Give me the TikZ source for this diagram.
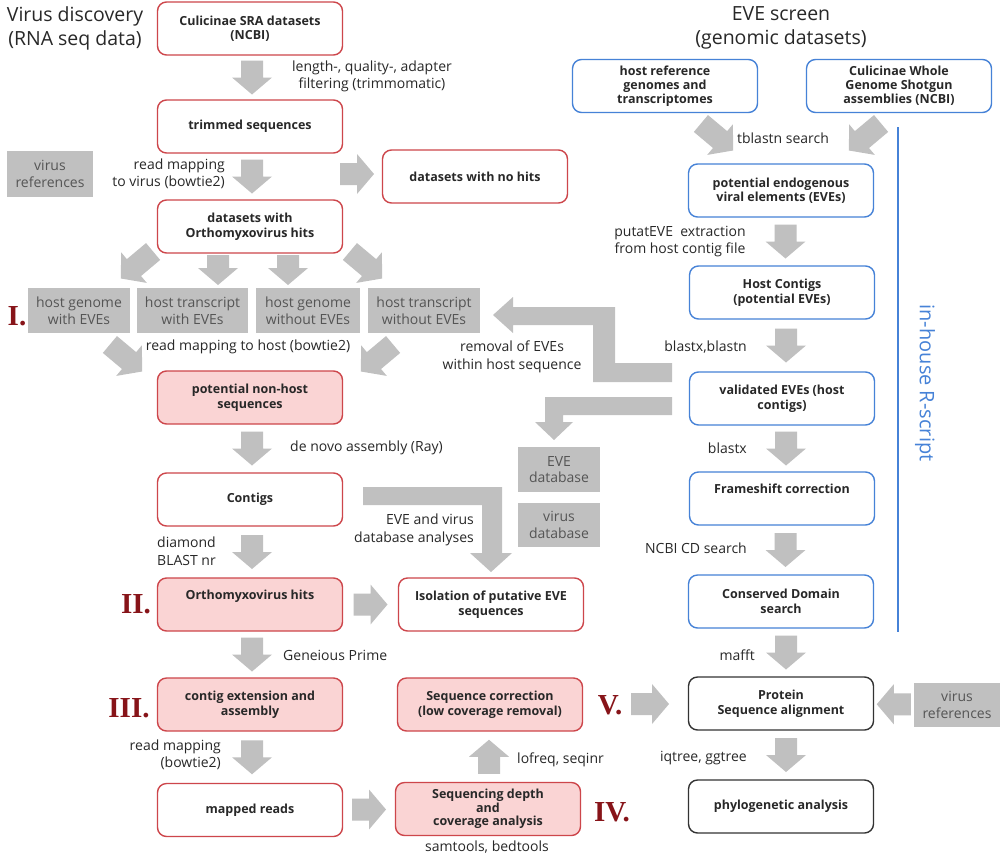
\documentclass[tikz,border=0pt]{standalone}
\usepackage{fontspec}
\setmainfont{Open Sans}
\newfontfamily\numfont{Liberation Serif}
\usetikzlibrary{calc}
\definecolor{boxred}{RGB}{205,70,75}
\definecolor{boxpink}{RGB}{250,212,212}
\definecolor{boxblue}{RGB}{70,130,215}
\definecolor{arrowgray}{RGB}{192,192,192}
\definecolor{gtext}{RGB}{85,85,85}
\definecolor{numred}{RGB}{135,20,25}
\definecolor{txt}{RGB}{40,40,40}
\newcommand{\blk}[3]{\fill[arrowgray, shift={#1}, rotate=#2] (-#3,-11) -- ({#3-17},-11) -- ({#3-17},-20) -- (#3,0) -- ({#3-17},20) -- ({#3-17},11) -- (-#3,11) -- cycle;}
\tikzset{
 box/.style={rounded corners=9pt, minimum width=185pt, minimum height=53pt, align=center, font=\bfseries\fontsize{12.5}{14.5}\selectfont, text=txt, line width=1.4pt, inner sep=1pt},
 redbox/.style={box, draw=boxred, fill=white},
 pinkbox/.style={box, draw=boxred, fill=boxpink},
 bluebox/.style={box, draw=boxblue, fill=white},
 blackbox/.style={box, draw=black!80, fill=white},
 graybox/.style={fill=arrowgray, text=gtext, align=center, font=\fontsize{14}{16.5}\selectfont, inner sep=0pt},
 lbl/.style={text=txt, font=\fontsize{14}{17.5}\selectfont, inner sep=0pt},
 roman/.style={text=numred, font=\numfont\bfseries\fontsize{29}{30}\selectfont, inner sep=0pt},
 title/.style={text=txt, font=\fontsize{19.5}{24}\selectfont, align=center, inner sep=0pt},
}
\begin{document}
\begin{tikzpicture}[x=1pt,y=-1pt]
\useasboundingbox[fill=white] (0,0) rectangle (1000,854);
% titles
\node[title] (t1) at (75,28) {Virus discovery\\(RNA seq data)};
\node[title] (t2) at (781,28) {EVE screen\\(genomic datasets)};
% left column
\node[redbox] (sra) at (250,28.5) {Culicinae SRA datasets\\(NCBI)};
\node[redbox] (trim) at (250,126.5) {trimmed sequences};
\node[redbox] (nohits) at (475,176.5) {datasets with no hits};
\node[redbox] (ortho) at (250,226.5) {datasets with\\Orthomyxovirus hits};
\node[pinkbox] (nonhost) at (250,397.5) {potential non-host\\sequences};
\node[redbox] (contigs) at (250,499.5) {Contigs};
\node[pinkbox] (ohits) at (250,604.5) {Orthomyxovirus hits\\\strut};
\node[redbox] (isol) at (491,604.5) {Isolation of putative EVE\\sequences};
\node[pinkbox] (ext) at (250,704.5) {contig extension and\\assembly};
\node[redbox] (mapped) at (250,810) {mapped reads};
\node[pinkbox] (seqcorr) at (490,704.5) {Sequence correction\\(low coverage removal)};
\node[pinkbox, font=\bfseries\fontsize{12.5}{13.5}\selectfont] (depth) at (488,809) {Sequencing depth\\and\\coverage analysis};
% right column
\node[bluebox, font=\bfseries\fontsize{12.5}{14}\selectfont] (hostref) at (665,86) {host reference\\genomes and\\transcriptomes};
\node[bluebox, font=\bfseries\fontsize{12.5}{14}\selectfont] (wgs) at (899,86) {Culicinae Whole\\Genome Shotgun\\assemblies (NCBI)};
\node[bluebox] (pot) at (781,190.5) {potential endogenous\\viral elements (EVEs)};
\node[bluebox] (hcont) at (782,292.5) {Host Contigs\\(potential EVEs)};
\node[bluebox] (valid) at (782,398.5) {validated EVEs (host\\contigs)};
\node[bluebox] (frame) at (782,498.5) {Frameshift correction\\\strut};
\node[bluebox] (cds) at (781,601.5) {Conserved Domain\\search};
\node[blackbox] (prot) at (781,703.5) {Protein\\Sequence alignment};
\node[blackbox] (phylo) at (781,806.5) {phylogenetic analysis};
% gray boxes
\node[graybox, minimum width=86pt, minimum height=46pt] (vref) at (50,174) {virus\\references};
\node[graybox, minimum width=102pt, minimum height=45pt] (g1) at (79,310.5) {host genome\\with EVEs};
\node[graybox, minimum width=111pt, minimum height=45pt] (g2) at (192.5,310.5) {host transcript\\with EVEs};
\node[graybox, minimum width=104pt, minimum height=45pt] (g3) at (308,310.5) {host genome\\without EVEs};
\node[graybox, minimum width=112pt, minimum height=45pt] (g4) at (424,310.5) {host transcript\\without EVEs};
\node[graybox, minimum width=82pt, minimum height=45pt] (evedb) at (559,469.5) {EVE\\database};
\node[graybox, minimum width=82pt, minimum height=44pt] (virdb) at (559,525) {virus\\database};
\node[graybox, minimum width=87pt, minimum height=44pt] (vref2) at (957,705) {virus\\references};
% block arrows left
\blk{($(sra.south)!0.5!(trim.north)+(2,0)$)}{-90}{17}
\blk{($(trim.south)!0.5!(ortho.north)+(2,0)$)}{-90}{17}
\blk{(357,174)}{0}{17}
\blk{(137,265)}{-140}{21}
\blk{(218,270)}{-90}{15}
\blk{(288,270)}{-90}{15}
\blk{(366,265)}{-40}{21}
\blk{(126,358)}{-40}{21}
\blk{(377,358)}{-140}{21}
\blk{($(nonhost.south)!0.5!(contigs.north)+(2,0)$)}{-90}{17}
\blk{($(contigs.south)!0.5!(ohits.north)+(2,0)$)}{-90}{17}
\blk{($(ohits.east)!0.5!(isol.west)$)}{0}{17}
\blk{($(ohits.south)!0.5!(ext.north)+(2,0)$)}{-90}{17}
\blk{($(ext.south)!0.5!(mapped.north)+(2,0)$)}{-90}{17}
\blk{($(mapped.east)!0.5!(depth.west)$)}{0}{17}
\blk{($(depth.north)!0.5!(seqcorr.south)$)}{90}{17}
\blk{(650,704)}{0}{19}
\blk{($(prot.east)!0.5!(vref2.west)$)}{180}{17}
% block arrows right
\blk{(717,137)}{-40}{21}
\blk{(865,137)}{-140}{21}
\blk{($(pot.south)!0.5!(hcont.north)+(4,0)$)}{-90}{17}
\blk{($(hcont.south)!0.5!(valid.north)+(4,0)$)}{-90}{17}
\blk{($(valid.south)!0.5!(frame.north)+(4,0)$)}{-90}{17}
\blk{($(frame.south)!0.5!(cds.north)+(4,0)$)}{-90}{17}
\blk{($(cds.south)!0.5!(prot.north)+(5,0)$)}{-90}{17}
\blk{($(prot.south)!0.5!(phylo.north)+(5,0)$)}{-90}{17}
% L-shaped arrows
\fill[arrowgray] (672,363) -- (615,363) -- (615,307) -- (513,307) -- (513,297) -- (493,315) -- (513,333) -- (513,325) -- (593,325) -- (593,382) -- (672,382) -- cycle;
\fill[arrowgray] (672,397) -- (545,397) -- (545,422) -- (535,422) -- (554,440) -- (573,422) -- (563,422) -- (563,415) -- (672,415) -- cycle;
\fill[arrowgray] (363,487) -- (502,487) -- (502,553) -- (512,553) -- (491,572) -- (470,553) -- (482,553) -- (482,505) -- (363,505) -- cycle;
% blue line and R-script
\coordinate (rtop) at (898,127);
\coordinate (rbot) at (898,632);
\draw[boxblue, line width=1.4pt] (rtop) -- (rbot);
\node[title, text=boxblue, font=\fontsize{20}{24}\selectfont, rotate=-90] (rscript) at (925,383) {in-house R-script};
% labels
\node[lbl, align=center] (l1) at (372,76.5) {length-, quality-, adapter\\filtering (trimmomatic)};
\node[lbl, align=right, anchor=east] (l2) at (225,174) {read mapping\\to virus (bowtie2)};
\node[lbl] (l3) at (248,347) {read mapping to host (bowtie2)};
\node[lbl, align=center] (l4) at (512,357) {removal of EVEs\\within host sequence};
\node[lbl, anchor=west] (l5) at (290,448) {de novo assembly (Ray)};
\node[lbl, align=right, anchor=east] (l6) at (474,530) {EVE and virus\\database analyses};
\node[lbl, align=left, anchor=west] (l7) at (157,551) {diamond\\BLAST nr};
\node[lbl, anchor=west] (l8) at (283,655) {Geneious Prime};
\node[lbl, align=right, anchor=east] (l9) at (221,755) {read mapping\\(bowtie2)};
\node[lbl] (l10) at (487,847) {samtools, bedtools};
\node[lbl, anchor=west] (l11) at (517,760) {lofreq, seqinr};
\node[lbl] (l12) at (783,138) {tblastn search};
\node[lbl, align=center] (l13) at (680,241.5) {putatEVE\ \ extraction\\from host contig file};
\node[lbl, anchor=east] (l14) at (747,347) {blastx,blastn};
\node[lbl, anchor=east] (l15) at (747,448) {blastx};
\node[lbl, anchor=east] (l16) at (747,548) {NCBI CD search};
\node[lbl, anchor=east] (l17) at (755,655) {mafft};
\node[lbl, anchor=east] (l18) at (747,758) {iqtree, ggtree};
% roman numerals
\node[roman] (r1) at (17,316) {I.};
\node[roman] (r2) at (136,604) {II.};
\node[roman] (r3) at (129,708) {III.};
\node[roman] (r5) at (610,705) {V.};
\node[roman] (r4) at (612,812) {IV.};
\end{tikzpicture}
\end{document}
